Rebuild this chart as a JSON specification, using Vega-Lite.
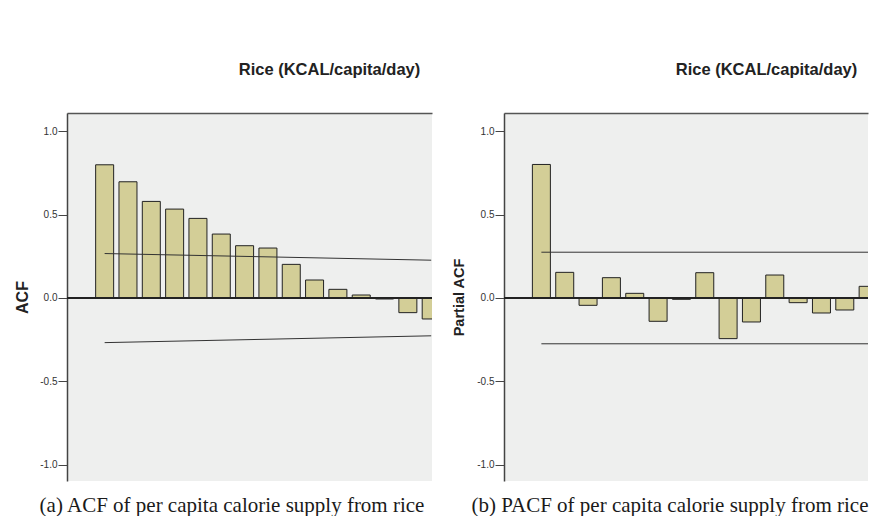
{
  "$schema": "https://vega.github.io/schema/vega-lite/v6.json",
  "background": "white",
  "padding": {"left": 14, "top": 61, "right": 0, "bottom": 0},
  "spacing": 18,
  "config": {
    "view": {"stroke": null, "fill": "#eeefee"},
    "axis": {"grid": false}
  },
  "datasets": {
    "acf": [
      {"lag": 1, "value": 0.80}, {"lag": 2, "value": 0.698}, {"lag": 3, "value": 0.58},
      {"lag": 4, "value": 0.534}, {"lag": 5, "value": 0.478}, {"lag": 6, "value": 0.384},
      {"lag": 7, "value": 0.314}, {"lag": 8, "value": 0.30}, {"lag": 9, "value": 0.202},
      {"lag": 10, "value": 0.108}, {"lag": 11, "value": 0.052}, {"lag": 12, "value": 0.018},
      {"lag": 13, "value": -0.006}, {"lag": 14, "value": -0.088}, {"lag": 15, "value": -0.126}
    ],
    "pacf": [
      {"lag": 1, "value": 0.802}, {"lag": 2, "value": 0.154}, {"lag": 3, "value": -0.044},
      {"lag": 4, "value": 0.122}, {"lag": 5, "value": 0.028}, {"lag": 6, "value": -0.14},
      {"lag": 7, "value": -0.008}, {"lag": 8, "value": 0.152}, {"lag": 9, "value": -0.244},
      {"lag": 10, "value": -0.144}, {"lag": 11, "value": 0.138}, {"lag": 12, "value": -0.028},
      {"lag": 13, "value": -0.09}, {"lag": 14, "value": -0.072}, {"lag": 15, "value": 0.07}
    ],
    "acfci": [
      {"lag": 1, "upper": 0.267, "lower": -0.268},
      {"lag": 15, "upper": 0.227, "lower": -0.227}
    ],
    "pacfci": [
      {"lag": 1, "upper": 0.275, "lower": -0.275},
      {"lag": 15, "upper": 0.275, "lower": -0.275}
    ]
  },
  "hconcat": [
    {
      "width": 365,
      "height": 368,
      "title": {"text": "(a) ACF of per capita calorie supply from rice", "orient": "bottom", "anchor": "middle", "font": "Liberation Serif", "fontSize": 21, "fontWeight": "normal", "color": "#1a1a1a", "dx": -17.5, "offset": 14},
      "layer": [
        {
          "data": {"name": "acf"},
          "mark": {"type": "bar", "width": 18, "fill": "#d3ce97", "stroke": "#222222", "strokeWidth": 1, "clip": true},
          "encoding": {
            "x": {"field": "lag", "type": "quantitative", "scale": {"domain": [-0.4, 14.82], "nice": false, "zero": false},
              "axis": {"orient": "top", "title": "Rice (KCAL/capita/day)", "labels": false, "ticks": false, "domainColor": "#555555", "domainWidth": 1.5, "titleFont": "Liberation Sans", "titleFontSize": 16.5, "titleFontWeight": "bold", "titleColor": "#222222", "titlePadding": 36, "titleX": 262}},
            "y": {"field": "value", "type": "quantitative", "stack": null, "scale": {"domain": [-1.099, 1.111], "nice": false, "zero": false},
              "axis": {"title": "ACF", "values": [-1, -0.5, 0, 0.5, 1], "format": ".1f", "labelExpr": "replace(datum.label, '\u2212', '-')", "labelFont": "Liberation Sans", "labelFontSize": 10, "labelColor": "#333333", "labelPadding": 1, "tickSize": 9, "tickColor": "#444444", "domainColor": "#444444", "domainWidth": 1.5, "titleFont": "Liberation Sans", "titleFontSize": 16, "titleFontWeight": "bold", "titleColor": "#222222", "titlePadding": 9}},
            "y2": {"datum": 0}
          }
        },
        {
          "data": {"name": "acf"},
          "mark": {"type": "rule", "color": "#222222", "strokeWidth": 1.2},
          "encoding": {"y": {"datum": 0}}
        },
        {
          "data": {"name": "acfci"},
          "mark": {"type": "line", "color": "#333333", "strokeWidth": 1, "clip": true},
          "encoding": {"x": {"field": "lag", "type": "quantitative"}, "y": {"field": "upper", "type": "quantitative"}}
        },
        {
          "data": {"name": "acfci"},
          "mark": {"type": "line", "color": "#333333", "strokeWidth": 1, "clip": true},
          "encoding": {"x": {"field": "lag", "type": "quantitative"}, "y": {"field": "lower", "type": "quantitative"}}
        }
      ]
    },
    {
      "width": 364,
      "height": 368,
      "title": {"text": "(b) PACF of per capita calorie supply from rice", "orient": "bottom", "anchor": "middle", "font": "Liberation Serif", "fontSize": 21, "fontWeight": "normal", "color": "#1a1a1a", "dx": -16, "offset": 14},
      "layer": [
        {
          "data": {"name": "pacf"},
          "mark": {"type": "bar", "width": 18, "fill": "#d3ce97", "stroke": "#222222", "strokeWidth": 1, "clip": true},
          "encoding": {
            "x": {"field": "lag", "type": "quantitative", "scale": {"domain": [-0.3875, 14.78], "nice": false, "zero": false},
              "axis": {"orient": "top", "title": "Rice (KCAL/capita/day)", "labels": false, "ticks": false, "domainColor": "#555555", "domainWidth": 1.5, "titleFont": "Liberation Sans", "titleFontSize": 16.5, "titleFontWeight": "bold", "titleColor": "#222222", "titlePadding": 36, "titleX": 262}},
            "y": {"field": "value", "type": "quantitative", "stack": null, "scale": {"domain": [-1.099, 1.111], "nice": false, "zero": false},
              "axis": {"title": "Partial ACF", "values": [-1, -0.5, 0, 0.5, 1], "format": ".1f", "labelExpr": "replace(datum.label, '\u2212', '-')", "labelFont": "Liberation Sans", "labelFontSize": 10, "labelColor": "#333333", "labelPadding": 1, "tickSize": 9, "tickColor": "#444444", "domainColor": "#444444", "domainWidth": 1.5, "titleFont": "Liberation Sans", "titleFontSize": 14.5, "titleFontWeight": "bold", "titleColor": "#222222", "titlePadding": 10}},
            "y2": {"datum": 0}
          }
        },
        {
          "data": {"name": "pacf"},
          "mark": {"type": "rule", "color": "#222222", "strokeWidth": 1.2},
          "encoding": {"y": {"datum": 0}}
        },
        {
          "data": {"name": "pacfci"},
          "mark": {"type": "line", "color": "#333333", "strokeWidth": 1, "clip": true},
          "encoding": {"x": {"field": "lag", "type": "quantitative"}, "y": {"field": "upper", "type": "quantitative"}}
        },
        {
          "data": {"name": "pacfci"},
          "mark": {"type": "line", "color": "#333333", "strokeWidth": 1, "clip": true},
          "encoding": {"x": {"field": "lag", "type": "quantitative"}, "y": {"field": "lower", "type": "quantitative"}}
        }
      ]
    }
  ]
}
